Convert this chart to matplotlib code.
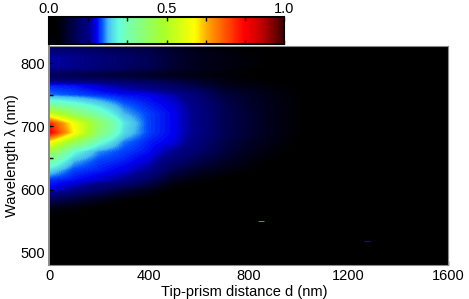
import matplotlib
matplotlib.use('Agg')
import matplotlib.pyplot as plt
from matplotlib.colors import LinearSegmentedColormap

plt.rcParams['font.family'] = ['Liberation Sans', 'DejaVu Sans']

# Axes values
distance = [0, 100, 200, 300, 400, 500, 600, 700, 800, 900, 1000, 1100, 1200, 1300, 1400, 1500, 1600]
wavelength = [825, 810, 795, 780, 765, 750, 735, 720, 705, 690, 675, 660, 645, 630, 615, 600, 585, 570, 555, 540, 525, 510, 495, 480]

# Intensity, one row per wavelength (estimated from the colours)
intensity = [
    [.13, .12, .11, .10, .09, .07, .05, .04, .03, .02, .01, 0, 0, 0, 0, 0, 0],
    [.18, .17, .15, .13, .11, .08, .06, .05, .04, .03, .02, .01, 0, 0, 0, 0, 0],
    [.18, .17, .15, .13, .11, .08, .06, .05, .04, .03, .02, .01, .01, 0, 0, 0, 0],
    [.11, .10, .09, .08, .07, .06, .05, .04, .03, .02, .01, .01, 0, 0, 0, 0, 0],
    [.21, .205, .19, .17, .15, .12, .09, .06, .05, .04, .03, .02, .01, .01, 0, 0, 0],
    [.235, .225, .215, .205, .20, .18, .14, .09, .07, .05, .035, .02, .015, .01, 0, 0, 0],
    [.34, .31, .27, .23, .21, .195, .155, .105, .075, .055, .035, .02, .01, .01, 0, 0, 0],
    [.55, .42, .33, .25, .22, .20, .16, .11, .08, .055, .035, .02, .01, .01, 0, 0, 0],
    [.80, .60, .42, .28, .22, .20, .16, .11, .08, .055, .035, .02, .01, .01, 0, 0, 0],
    [.85, .62, .40, .27, .22, .20, .16, .11, .08, .055, .035, .02, .01, .01, 0, 0, 0],
    [.62, .44, .31, .235, .21, .195, .15, .10, .07, .05, .03, .02, .01, 0, 0, 0, 0],
    [.46, .30, .24, .22, .205, .17, .13, .09, .06, .04, .03, .015, .01, 0, 0, 0, 0],
    [.35, .25, .22, .21, .19, .14, .10, .07, .05, .03, .02, .01, 0, 0, 0, 0, 0],
    [.27, .22, .21, .195, .17, .10, .07, .05, .035, .02, .01, 0, 0, 0, 0, 0, 0],
    [.215, .205, .19, .17, .12, .06, .04, .03, .02, .01, 0, 0, 0, 0, 0, 0, 0],
    [.20, .17, .13, .09, .06, .03, .02, .015, .01, 0, 0, 0, 0, 0, 0, 0, 0],
    [.12, .09, .06, .04, .03, .02, .01, .01, 0, 0, 0, 0, 0, 0, 0, 0, 0],
    [.05, .04, .03, .02, .015, .01, 0, 0, 0, 0, 0, 0, 0, 0, 0, 0, 0],
    [.03, .025, .02, .015, .01, 0, 0, 0, 0, 0, 0, 0, 0, 0, 0, 0, 0],
    [.025, .02, .015, .01, 0, 0, 0, 0, 0, 0, 0, 0, 0, 0, 0, 0, 0],
    [.02, .015, .01, 0, 0, 0, 0, 0, 0, 0, 0, 0, 0, 0, 0, 0, 0],
    [.02, .01, .01, 0, 0, 0, 0, 0, 0, 0, 0, 0, 0, 0, 0, 0, 0],
    [.01, .01, 0, 0, 0, 0, 0, 0, 0, 0, 0, 0, 0, 0, 0, 0, 0],
    [.01, .01, 0, 0, 0, 0, 0, 0, 0, 0, 0, 0, 0, 0, 0, 0, 0],
]

# Two isolated bright specks
speck_d = [850, 1275]
speck_wl = [550, 519]
speck_colors = ['#4f9a3a', '#14146e']

cbar_ticks = [0, 1/6, 2/6, 3/6, 4/6, 5/6, 1]
cbar_labels = ['0.0', '', '', '0.5', '', '', '1.0']

# Colour scale as seen in the bar
cmap = LinearSegmentedColormap.from_list('spec', [
    (0.00, '#000000'), (0.03, '#000000'), (0.06, '#00001e'), (0.12, '#000060'), (0.17, '#00008c'),
    (0.20, '#0000f0'), (0.225, '#0050ff'), (0.25, '#46bef0'), (0.295, '#64ffdc'),
    (0.337, '#78ffaa'), (0.49, '#aaff28'), (0.62, '#ffff00'), (0.68, '#ffa000'),
    (0.83, '#ff0000'), (0.90, '#c80000'), (1.00, '#3c0000'),
])

W, H = 469, 299
fig = plt.figure(figsize=(W / 100, H / 100), dpi=100)
ax = fig.add_axes([49 / W, 1 - 265 / H, 399 / W, 219 / H])
cax = fig.add_axes([49 / W, 1 - 44 / H, 235 / W, 27 / H])

im = ax.imshow(intensity, cmap=cmap, vmin=0, vmax=1, aspect='auto', interpolation='bilinear',
               extent=(-50, 1650, 472.5, 832.5))
ax.set_xlim(0, 1600)
ax.set_ylim(481, 827)
ax.hlines(speck_wl, [d - 12 for d in speck_d], [d + 12 for d in speck_d], colors=speck_colors, lw=0.7)

ax.set_xticks([0, 400, 800, 1200, 1600])
ax.set_yticks([500, 600, 700, 800])
ax.set_yticks([550, 650, 750], minor=True)
ax.tick_params(axis='both', which='major', direction='in', length=3, width=1, labelsize=10.5, pad=3, colors='black')
ax.tick_params(axis='y', which='minor', direction='in', length=3, width=1)
ax.tick_params(axis='x', pad=3)
for s in ax.spines.values():
    s.set_color('#8a8a8a')
    s.set_linewidth(0.8)
ax.spines['left'].set_linewidth(1.4)
ax.set_xlabel('Tip-prism distance d (nm)', fontsize=10.5)
ax.xaxis.set_label_coords(0.49, -0.092, transform=ax.transAxes)
ax.xaxis.label.set_verticalalignment('top')
ax.set_ylabel('Wavelength λ (nm)', fontsize=10.5, labelpad=1)

cb = fig.colorbar(im, cax=cax, orientation='horizontal')
cb.set_ticks(cbar_ticks)
cb.set_ticklabels(cbar_labels)
cax.xaxis.set_ticks_position('both')
cax.xaxis.set_label_position('top')
cax.tick_params(axis='x', direction='in', length=3, width=1, labelsize=10.5, pad=1,
                labeltop=True, labelbottom=False, top=True, bottom=True)
cb.outline.set_edgecolor('black')
cb.outline.set_linewidth(1.5)

fig.savefig('out.png', dpi=100)
